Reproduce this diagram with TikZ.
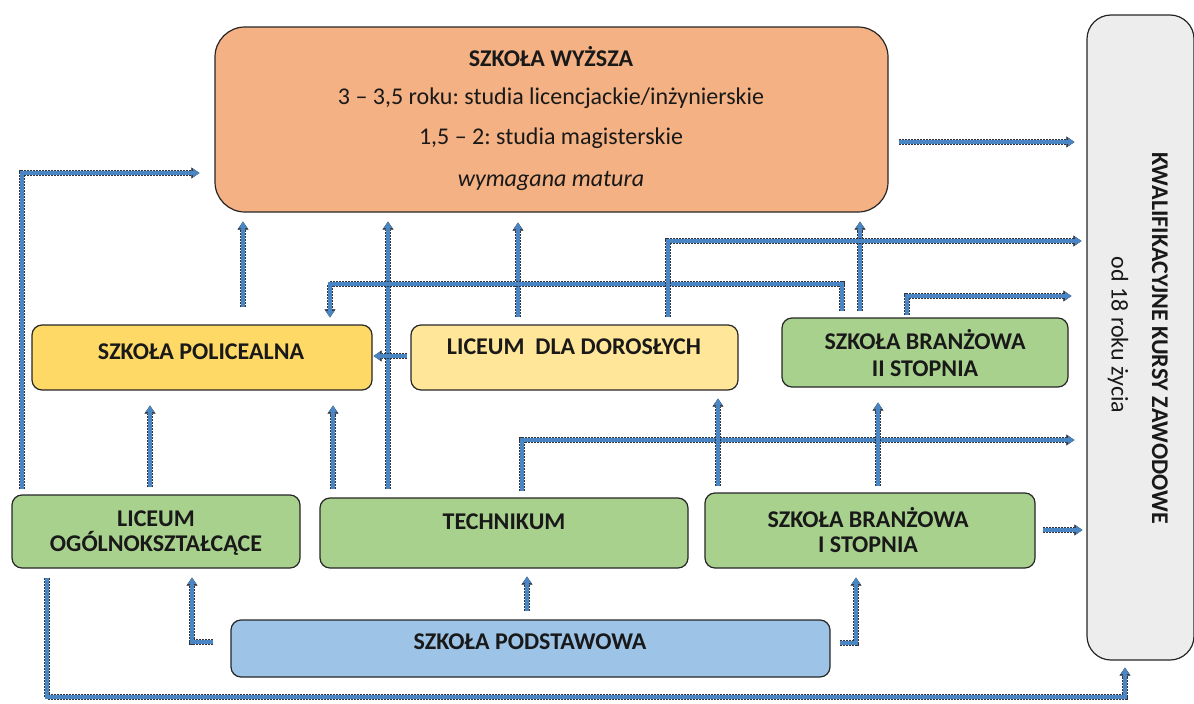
\documentclass[tikz,border=0pt]{standalone}
\usepackage{fontspec}
\setmainfont{Carlito}
\usetikzlibrary{arrows.meta}
\frenchspacing
\definecolor{cwyz}{HTML}{F4B183}
\definecolor{cpol}{HTML}{FFD966}
\definecolor{cldd}{HTML}{FFE699}
\definecolor{cgreen}{HTML}{A9D18E}
\definecolor{cblue}{HTML}{9DC3E6}
\definecolor{cgray}{HTML}{EDEDED}
\definecolor{boxline}{HTML}{262626}
\definecolor{flowblue}{HTML}{4A86C4}
\definecolor{dashdark}{HTML}{2E3440}
\newcommand{\flow}[2][]{\draw[outl,#1] #2; \draw[core,#1] #2;}
\tikzset{
  box/.style={draw=boxline, line width=1.2pt, rounded corners=10pt, inner sep=0pt},
  bl/.style={font=\fontsize{24}{25}\selectfont\bfseries, align=center, inner sep=0pt, text=black!90},
  rl/.style={font=\fontsize{24}{25}\selectfont, align=center, inner sep=0pt, text=black!90},
  outl/.style={draw=dashdark, line width=6pt, dash pattern=on 2pt off 1pt,
     -{Triangle[length=8pt,width=11pt,line width=0.4pt]}, color=dashdark},
  core/.style={draw=flowblue, line width=3.3pt, -{Triangle[length=6.5pt,width=8pt,line width=0.4pt]}, color=flowblue},
}
\begin{document}
\begin{tikzpicture}[x=1pt,y=-1pt]
\useasboundingbox (0,0) rectangle (1194,704);
% boxes
\node[box, fill=cwyz, rounded corners=30pt, minimum width=673pt, minimum height=185pt] (wy) at (551.5,119.5) {};
\node[box, fill=cgray, rounded corners=24pt, minimum width=107pt, minimum height=645pt] (kw) at (1140.5,337.5) {};
\node[box, fill=cpol, minimum width=340pt, minimum height=65pt] (pol) at (202,357.5) {};
\node[box, fill=cldd, minimum width=327pt, minimum height=65pt] (ldd) at (574.5,357.5) {};
\node[box, fill=cgreen, minimum width=286pt, minimum height=69pt] (b2) at (925,352.5) {};
\node[box, fill=cgreen, minimum width=288pt, minimum height=73pt] (lo) at (156,531.5) {};
\node[box, fill=cgreen, minimum width=368pt, minimum height=70pt] (tech) at (504,533) {};
\node[box, fill=cgreen, minimum width=330pt, minimum height=75pt] (b1) at (870,530.5) {};
\node[box, fill=cblue, minimum width=599pt, minimum height=57pt] (sp) at (530.5,648.5) {};
% texts
\node[bl] (twy1) at (551,57) {SZKOŁA WYŻSZA};
\node[rl] (twy2) at (551,98) {3 – 3,5 roku: studia licencjackie/inżynierskie};
\node[rl] (twy3) at (551,138) {1,5 – 2: studia magisterskie};
\node[rl, font=\fontsize{24}{25}\selectfont\itshape] (twy4) at (551,181) {wymagana matura};
\node[bl] (tpol) at (201,352) {SZKOŁA POLICEALNA};
\node[bl] (tldd) at (574,347) {LICEUM\ \ DLA DOROSŁYCH};
\node[bl, font=\fontsize{24}{27}\selectfont\bfseries] (tb2) at (925,353) {SZKOŁA BRANŻOWA\\II STOPNIA};
\node[bl] (tlo) at (156,533) {LICEUM\\OGÓLNOKSZTAŁCĄCE};
\node[bl] (ttech) at (504,522) {TECHNIKUM};
\node[bl] (tb1) at (868,530) {SZKOŁA BRANŻOWA\\I STOPNIA};
\node[bl] (tsp) at (530,642) {SZKOŁA PODSTAWOWA};
\node[bl, rotate=-90] (tkw1) at (1160,338) {KWALIFIKACYJNE KURSY ZAWODOWE};
\node[rl, rotate=-90] (tkw2) at (1118,335) {od 18 roku życia};
% connectors
\flow[shorten <=5pt, shorten >=15pt]{(lo.north -| 22,0) |- (wy.west |- 0,173)}
\flow[shorten <=17pt, shorten >=9pt]{(pol.north -| 243,0) -- (wy.south -| 243,0)}
\flow[shorten <=8pt, shorten >=9pt]{(tech.north -| 388,0) -- (wy.south -| 388,0)}
\flow[shorten <=7pt, shorten >=10pt]{(ldd.north -| 518,0) -- (wy.south -| 518,0)}
\flow[shorten <=6pt, shorten >=9pt]{(b2.north -| 860,0) -- (wy.south -| 860,0)}
\flow[shorten <=6pt, shorten >=7pt]{(b2.north -| 842,0) -- (842,284) -| (pol.north -| 330,0)}
\flow[shorten <=7pt, shorten >=5pt]{(ldd.north -| 668,0) |- (kw.west |- 0,241)}
\flow[shorten <=2pt, shorten >=15pt]{(b2.north -| 907,0) |- (kw.west |- 0,296)}
\flow[shorten <=10pt, shorten >=12pt]{(wy.east |- 0,142) -- (kw.west |- 0,142)}
\flow[shorten <=3pt, shorten >=1pt]{(ldd.west |- 0,356) -- (pol.east |- 0,356)}
\flow[shorten <=7pt, shorten >=15pt]{(lo.north -| 150,0) -- (pol.south -| 150,0)}
\flow[shorten <=8pt, shorten >=15pt]{(tech.north -| 333,0) -- (pol.south -| 333,0)}
\flow[shorten <=6pt, shorten >=12pt]{(tech.north -| 522,0) |- (kw.west |- 0,440)}
\flow[shorten <=6pt, shorten >=8pt]{(b1.north -| 718,0) -- (ldd.south -| 718,0)}
\flow[shorten <=6pt, shorten >=15pt]{(b1.north -| 878,0) -- (b2.south -| 878,0)}
\flow[shorten <=7pt, shorten >=4pt]{(b1.east |- 0,530) -- (kw.west |- 0,530)}
\flow[shorten <=17pt, shorten >=9pt]{(sp.west |- 0,642) -| (lo.south -| 192,0)}
\flow[shorten <=8pt, shorten >=8pt]{(sp.north -| 527,0) -- (tech.south -| 527,0)}
\flow[shorten <=9pt, shorten >=9pt]{(sp.east |- 0,643) -| (b1.south -| 856,0)}
\flow[shorten <=9pt, shorten >=7pt]{(lo.south -| 47,0) -- (47,697) -| (kw.south -| 1125,0)}
\end{tikzpicture}
\end{document}
